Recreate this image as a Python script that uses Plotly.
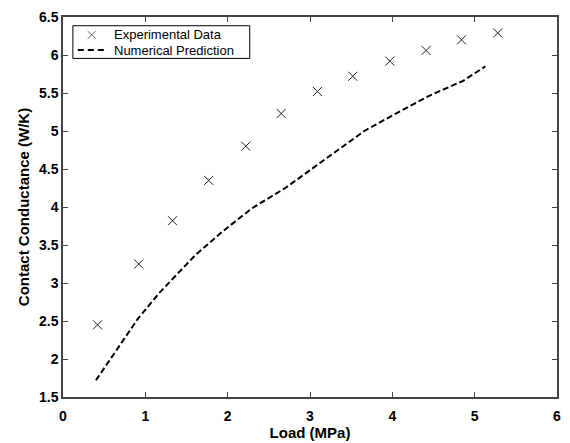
import plotly.graph_objects as go

# Measured contact conductance vs. applied load
load_exp = [0.42, 0.92, 1.33, 1.77, 2.22, 2.65, 3.09, 3.52, 3.97, 4.41, 4.84, 5.28]
cond_exp = [2.45, 3.25, 3.82, 4.35, 4.80, 5.23, 5.52, 5.72, 5.92, 6.06, 6.20, 6.29]

# Model prediction
load_num = [0.40, 0.91, 1.17, 1.61, 1.93, 2.29, 2.70, 3.26, 3.66, 4.06, 4.46, 4.86, 5.13]
cond_num = [1.72, 2.53, 2.87, 3.37, 3.67, 3.98, 4.25, 4.69, 5.00, 5.24, 5.47, 5.66, 5.85]

x_ticks = [0, 1, 2, 3, 4, 5, 6]
y_ticks = [1.5, 2, 2.5, 3, 3.5, 4, 4.5, 5, 5.5, 6, 6.5]

legend_labels = ["Experimental Data", "Numerical Prediction"]

font_family = "Liberation Sans, Arial, sans-serif"
mark_color = "#222222"

fig = go.Figure()
fig.add_trace(go.Scatter(
    x=load_exp, y=cond_exp, mode="markers", name=legend_labels[0],
    marker=dict(symbol="x-thin", size=9, color=mark_color,
                line=dict(color=mark_color, width=1)),
))
fig.add_trace(go.Scatter(
    x=load_num, y=cond_num, mode="lines", name=legend_labels[1],
    line=dict(color="black", width=2, dash="6px,3px"),
))

axis_common = dict(
    showgrid=False, zeroline=False, showline=True, mirror="ticks",
    linecolor="#444444", linewidth=1.5, ticks="inside", ticklen=5,
    tickcolor="#444444", tickwidth=1,
    tickfont=dict(family=font_family, size=14, color="black", weight="bold"),
)

# Compact boxed legend in the upper-left corner (paper coordinates)
box_x0, box_x1, box_y0, box_y1 = 0.020, 0.378, 0.891, 0.977
row_y = [0.953, 0.913]
glyph_x0, glyph_x1, glyph_xc = 0.030, 0.084, 0.058
text_x = 0.100
half_w, half_h = 0.008, 0.010

shapes = [
    dict(type="rect", xref="paper", yref="paper",
         x0=box_x0, x1=box_x1, y0=box_y0, y1=box_y1,
         line=dict(color="black", width=1), fillcolor="white", layer="above"),
    # "x" glyph
    dict(type="line", xref="paper", yref="paper",
         x0=glyph_xc - half_w, x1=glyph_xc + half_w,
         y0=row_y[0] - half_h, y1=row_y[0] + half_h,
         line=dict(color="#666666", width=1), layer="above"),
    dict(type="line", xref="paper", yref="paper",
         x0=glyph_xc - half_w, x1=glyph_xc + half_w,
         y0=row_y[0] + half_h, y1=row_y[0] - half_h,
         line=dict(color="#666666", width=1), layer="above"),
    # dashed-line glyph
    dict(type="line", xref="paper", yref="paper",
         x0=glyph_x0, x1=glyph_x1, y0=row_y[1], y1=row_y[1],
         line=dict(color="black", width=2, dash="6px,4px"), layer="above"),
]

annotations = [
    dict(xref="paper", yref="paper", x=text_x, y=yy, text=label,
         showarrow=False, xanchor="left", yanchor="middle",
         font=dict(family=font_family, size=13, color="black"))
    for label, yy in zip(legend_labels, row_y)
]

fig.update_layout(
    width=570, height=443,
    margin=dict(l=63, r=9, t=14, b=36),
    paper_bgcolor="white", plot_bgcolor="white",
    font=dict(family=font_family, color="black"),
    showlegend=False,
    shapes=shapes,
    annotations=annotations,
    xaxis=dict(
        range=[0, 6], tickvals=x_ticks, ticktext=[str(v) for v in x_ticks],
        ticklabelstandoff=5,
        title=dict(text="Load (MPa)", standoff=0,
                   font=dict(family=font_family, size=15, color="black", weight="bold")),
        **axis_common,
    ),
    yaxis=dict(
        range=[1.5, 6.5], tickvals=y_ticks, ticktext=[f"{v:g}" for v in y_ticks],
        title=dict(text="Contact Conductance (W/K)", standoff=6,
                   font=dict(family=font_family, size=15, color="black", weight="bold")),
        **axis_common,
    ),
)

fig.write_html("out.html")
